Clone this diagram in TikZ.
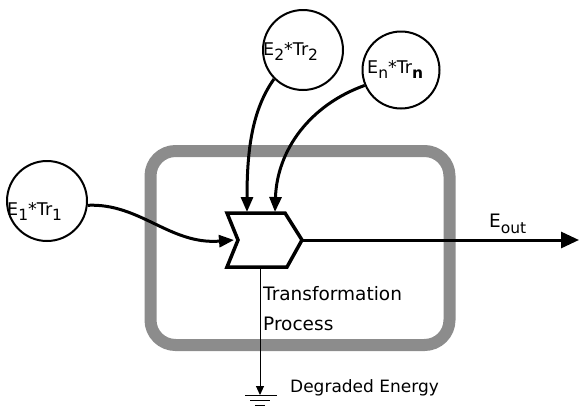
\documentclass[tikz,border=0pt]{standalone}
\usepackage{fontspec}
\setmainfont{DejaVu Sans}
\usetikzlibrary{arrows.meta}
\newcommand\lowsub[2][5pt]{\raisebox{-#1}{\fontsize{15.5}{16}\selectfont #2}}
\begin{document}
\begin{tikzpicture}[x=1pt,y=-1pt,
  band/.style={line width=12pt, draw=black!45, rounded corners=25pt},
  src/.style={circle, draw, line width=2pt, minimum size=80pt, inner sep=0pt},
  feed/.style={line width=3pt, -{Triangle[length=15pt,width=12pt]}},
  lbl/.style={anchor=base west, inner sep=0pt, font=\fontsize{17.5}{20}\selectfont},
  txt/.style={anchor=base west, inner sep=0pt, align=left}]
\useasboundingbox (0,0) rectangle (579,410);
% system boundary
\draw[band] (150.5,151) rectangle (449.5,345);
% sources
\node[src] (c1) at (47,201) {};
\node[src] (c2) at (303,50) {};
\node[src, minimum size=77pt] (cn) at (401,70) {};
\node[lbl] (t1) at (7,215) {E\lowsub{1}*Tr\lowsub{1}};
\node[lbl] (t2) at (263,55) {E\lowsub{2}*Tr\lowsub{2}};
\node[lbl] (tn) at (367,73) {E\lowsub{n}*Tr\lowsub{\bfseries n}};
% transformation chevron
\coordinate (tl) at (227,213);
\coordinate (tr) at (285,213);
\coordinate (tip) at (302,240);
\coordinate (br) at (287,267);
\coordinate (bl) at (227,267);
\coordinate (notch) at (238,240);
\coordinate (in1) at (234,240);
\coordinate (in2) at (247,212);
\coordinate (inn) at (275,212);
\coordinate (bot) at (260,268);
\coordinate (outend) at (579,240);
\coordinate (gnd) at (260,395);
\draw[line width=3.5pt, line join=miter, fill=white] (tl) -- (tr) -- (tip) -- (br) -- (bl) -- (notch) -- cycle;
% inputs
\draw[feed] (c1.-6) .. controls (140,203) and (170,245) .. (in1);
\draw[feed] (c2.225) .. controls (252,110) and (247,150) .. (in2);
\draw[feed] (cn.203) .. controls (310,105) and (277,150) .. (inn);
% output
\draw[line width=3pt, -{Triangle[length=18pt,width=16pt]}] (tip) -- (outend);
\node[lbl, font=\fontsize{18.5}{20}\selectfont] (eout) at (489,227) {E\lowsub[6pt]{out}};
% degraded energy
\draw[line width=1pt, -{Triangle[length=9pt,width=8pt]}] (bot) -- (gnd);
\draw[line width=1pt] (245,395) -- (277,395);
\draw[line width=1pt] (250,400.5) -- (270,400.5);
\draw[line width=1pt] (255,405) -- (265,405);
\node[txt, font=\fontsize{18.5}{30}\selectfont] (tp) at (263,330) {Transformation\\Process};
\node[txt, font=\fontsize{17}{18}\selectfont] (de) at (290,392) {Degraded Energy};
\end{tikzpicture}
\end{document}
